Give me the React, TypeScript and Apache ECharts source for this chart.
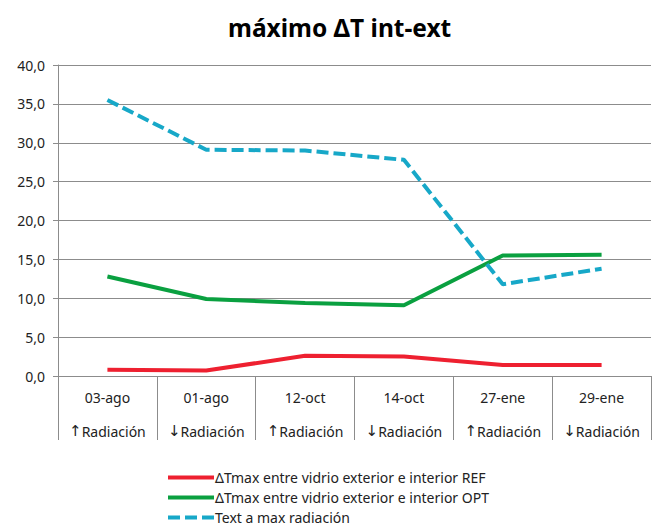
import React, { useEffect, useRef } from "react";
import * as echarts from "echarts";

const titleText = "máximo ΔT int-ext";
const dates = ["03-ago", "01-ago", "12-oct", "14-oct", "27-ene", "29-ene"];
const arrows = ["↑", "↓", "↑", "↓", "↑", "↓"];
const radiationWord = "Radiación";
const seriesNames = [
  "ΔTmax entre vidrio exterior e interior REF",
  "ΔTmax entre vidrio exterior e interior OPT",
  "Text a max radiación",
];
const refValues = [0.8, 0.7, 2.6, 2.5, 1.4, 1.4];
const optValues = [12.8, 9.9, 9.4, 9.1, 15.5, 15.6];
const textValues = [35.5, 29.1, 29.0, 27.8, 11.8, 13.8];

const FONT = "Noto Sans";

export default function App() {
  const ref = useRef<HTMLDivElement>(null);
  useEffect(() => {
    if (!ref.current) return;
    const chart = echarts.init(ref.current, null, { renderer: "svg" });
    chart.setOption({
      animation: false,
      backgroundColor: "#ffffff",
      title: {
        text: titleText,
        left: 223,
        top: 10,
        textStyle: { fontFamily: FONT, fontSize: 24.5, fontWeight: "bold", color: "#000" },
      },
      grid: { left: 58, right: 1, top: 65, bottom: 153 },
      legend: {
        orient: "vertical",
        left: 166,
        top: 469,
        height: 64,
        padding: 0,
        itemWidth: 46,
        itemHeight: 14,
        itemGap: 3,
        itemStyle: { opacity: 0 },
        lineStyle: { width: 4 },
        textStyle: {
          fontFamily: FONT,
          fontSize: 14,
          lineHeight: 17,
          color: "#222",
          padding: [0, 0, 0, -4],
        },
        data: seriesNames,
      },
      xAxis: {
        type: "category",
        data: dates,
        boundaryGap: true,
        axisLine: { lineStyle: { color: "#8c8c8c", width: 1 } },
        axisTick: { show: true, length: 64, lineStyle: { color: "#8c8c8c" } },
        axisLabel: {
          margin: 4,
          interval: 0,
          lineHeight: 34,
          fontFamily: FONT,
          fontSize: 14,
          color: "#222",
          formatter: (v: string, i: number) => `{d|${v}}\n{a|${arrows[i]}}{r|${radiationWord}}`,
          rich: {
            d: { fontFamily: FONT, fontSize: 14, color: "#222", lineHeight: 34 },
            a: { fontFamily: "DejaVu Sans", fontSize: 15, color: "#222", lineHeight: 34 },
            r: { fontFamily: FONT, fontSize: 14, color: "#222", lineHeight: 34 },
          },
        },
        splitLine: { show: false },
      },
      yAxis: {
        type: "value",
        min: 0,
        max: 40,
        interval: 5,
        axisLine: { show: true, lineStyle: { color: "#8c8c8c" } },
        axisTick: { show: true, length: 5, lineStyle: { color: "#8c8c8c" } },
        axisLabel: {
          margin: 13,
          fontFamily: FONT,
          fontSize: 14,
          color: "#222",
          formatter: (v: number) => v.toFixed(1).replace(".", ","),
        },
        splitLine: { lineStyle: { color: "#8c8c8c", width: 1 } },
      },
      series: [
        {
          name: seriesNames[0],
          type: "line",
          data: refValues,
          symbol: "none",
          lineStyle: { color: "#ee2030", width: 4 },
          itemStyle: { color: "#ee2030" },
        },
        {
          name: seriesNames[1],
          type: "line",
          data: optValues,
          symbol: "none",
          lineStyle: { color: "#0aa040", width: 4 },
          itemStyle: { color: "#0aa040" },
        },
        {
          name: seriesNames[2],
          type: "line",
          data: textValues,
          symbol: "none",
          lineStyle: { color: "#17a8c8", width: 4, type: [12, 5] },
          itemStyle: { color: "#17a8c8" },
        },
      ],
    });
    return () => chart.dispose();
  }, []);
  return (
    <div
      ref={ref}
      style={{ position: "fixed", left: 0, top: 0, width: 652, height: 529 }}
    />
  );
}
